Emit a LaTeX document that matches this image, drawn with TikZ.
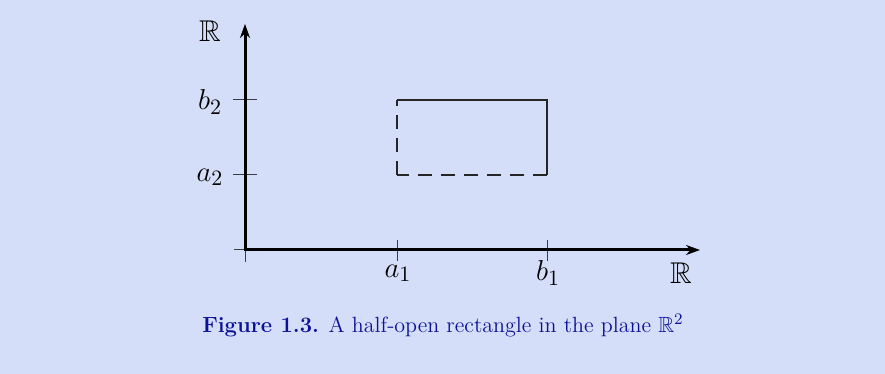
\documentclass[tikz,border=0pt]{standalone}
\usepackage{amssymb}
\usetikzlibrary{arrows.meta}
\definecolor{bgblue}{RGB}{213,222,248}
\definecolor{capblue}{RGB}{12,18,150}
\definecolor{tickgray}{RGB}{60,60,70}
\tikzset{
  axis/.style={line width=1.5pt,-{Stealth[length=7pt,width=5pt]}},
  tickmark/.style={line width=0.5pt,tickgray},
  solidedge/.style={line width=0.7pt,black!85},
  dashededge/.style={line width=0.7pt,black!85,dash pattern=on 7pt off 4.5pt},
  lab/.style={font=\fontsize{15}{18}\selectfont,inner sep=0pt},
}
\begin{document}
\begin{tikzpicture}[x=0.5pt,y=-0.5pt]
\fill[bgblue] (0,0) rectangle (885,374);
\useasboundingbox (0,0) rectangle (885,374);
% coordinates
\coordinate (O) at (245,250);
\coordinate (ybot) at (245,262);
\coordinate (ytop) at (245,24);
\coordinate (xleft) at (234,250);
\coordinate (xright) at (700,250);
\coordinate (ta2l) at (233,175); \coordinate (ta2r) at (257,175);
\coordinate (tb2l) at (233,100); \coordinate (tb2r) at (257,100);
\coordinate (ta1t) at (397,240); \coordinate (ta1b) at (397,261);
\coordinate (tb1t) at (547,240); \coordinate (tb1b) at (547,261);
\coordinate (A) at (397,175);
\coordinate (B) at (547,175);
\coordinate (C) at (547,100);
\coordinate (D) at (397,100);
% ticks
\draw[tickmark] (ta2l) -- (ta2r);
\draw[tickmark] (tb2l) -- (tb2r);
\draw[tickmark] (ta1t) -- (ta1b);
\draw[tickmark] (tb1t) -- (tb1b);
\draw[tickmark] (xleft) -- (O);
\draw[tickmark] (ybot) -- (O);
% axes
\draw[axis] (O) -- (ytop);
\draw[axis] ([xshift=-0.75pt]O) -- (xright);
% rectangle
\draw[solidedge] (D) -- (C) -- (B);
\draw[dashededge] (B) -- (A);
\draw[dashededge] (A) -- (D);
% labels
\node[lab] (Ry) at (210,31) {$\mathbb{R}$};
\node[lab] (b2) at (210,102) {$b_2$};
\node[lab] (a2) at (210,177) {$a_2$};
\node[lab] (a1) at (398,273) {$a_1$};
\node[lab] (b1) at (548,273) {$b_1$};
\node[lab] (Rx) at (681,273) {$\mathbb{R}$};
\node[font=\fontsize{11}{13}\selectfont,capblue,inner sep=0pt] (cap) at (443,326)
  {\textbf{Figure 1.3.} A half-open rectangle in the plane $\mathbb{R}^2$};
\end{tikzpicture}
\end{document}
